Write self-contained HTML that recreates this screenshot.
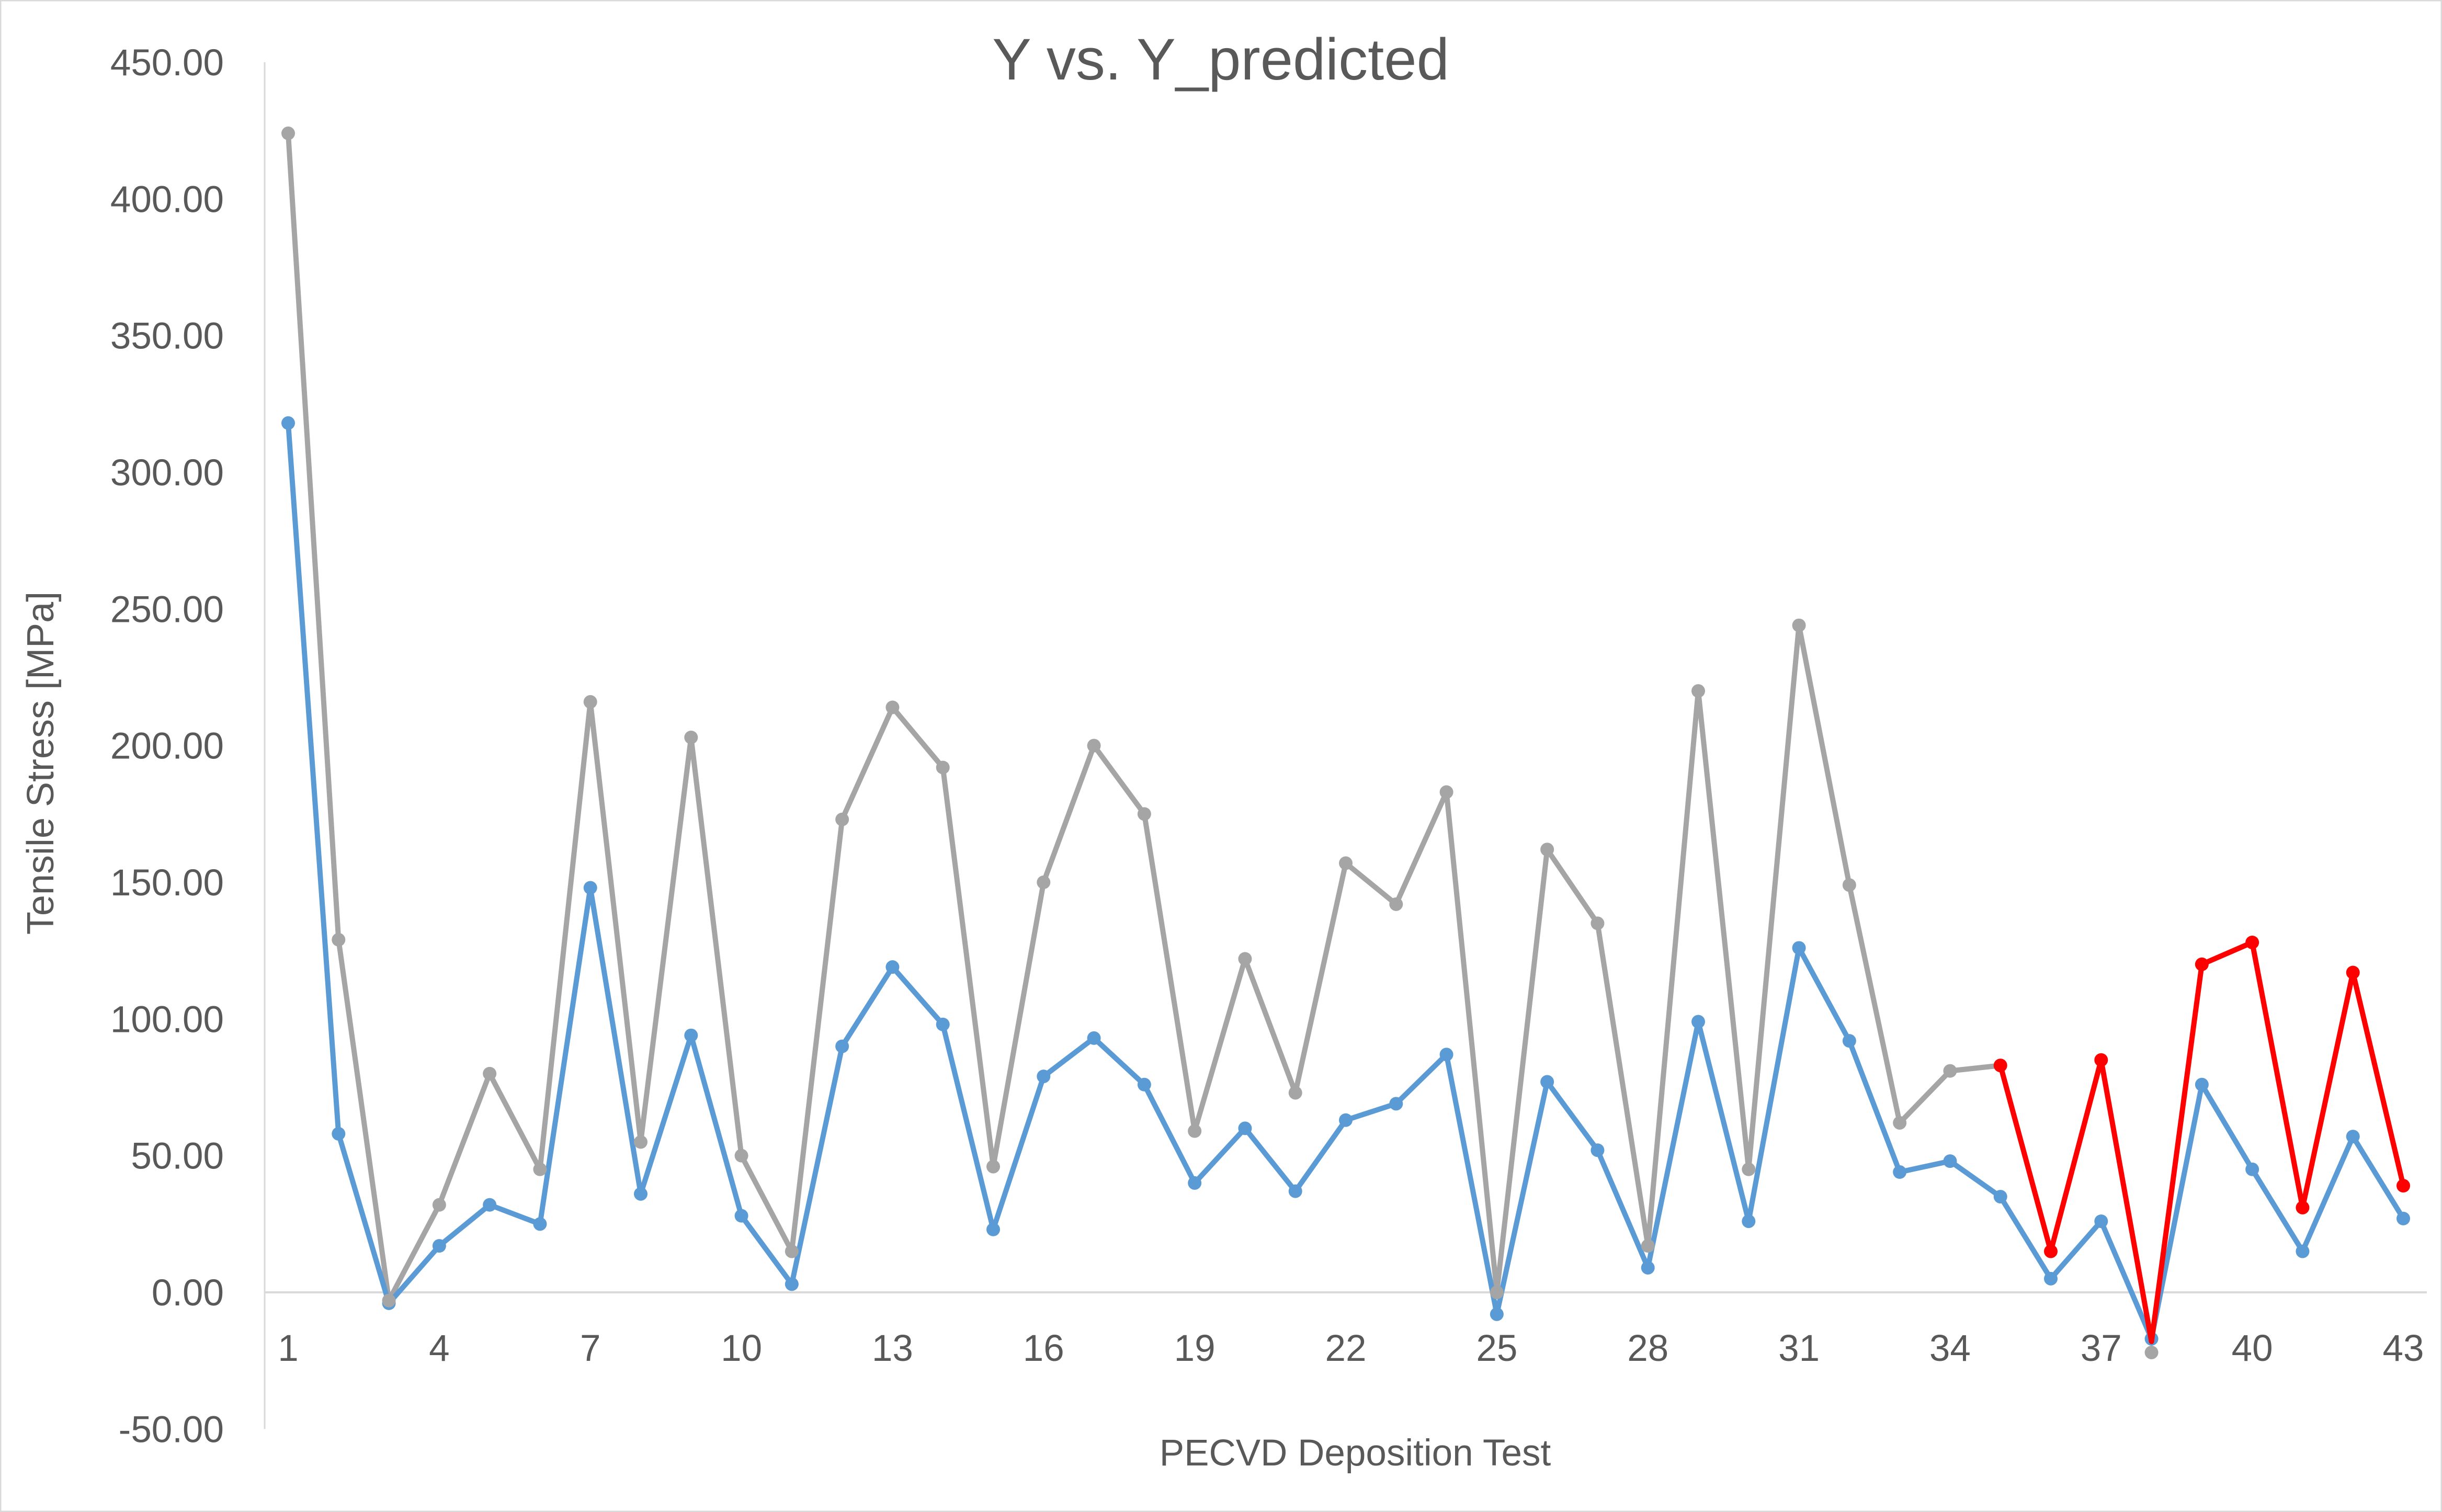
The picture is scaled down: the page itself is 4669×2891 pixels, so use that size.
<!DOCTYPE html>
<html><head><meta charset="utf-8"><style>
html,body{margin:0;padding:0;background:#fff}
svg{display:block}
text{font-family:"Liberation Sans",sans-serif;fill:#595959}
</style></head><body>
<svg id="chart" width="4669" height="2891" viewBox="0 0 4669 2891">
<rect x="1" y="1" width="4667" height="2889" fill="#fff" stroke="#D9D9D9" stroke-width="3"/>
<text x="2334" y="152" font-size="112" text-anchor="middle">Y vs. Y_predicted</text>
<text transform="translate(102,1459) rotate(-90)" font-size="72" text-anchor="middle">Tensile Stress [MPa]</text>
<text x="2591" y="2802" font-size="71" text-anchor="middle">PECVD Deposition Test</text>
<g id="axes"></g><g id="series"></g>
</svg>
<script>
const categories=[];for(let i=1;i<=43;i++)categories.push(i);
const yTicks=[-50,0,50,100,150,200,250,300,350,400,450];
const xTickLabels=[1,4,7,10,13,16,19,22,25,28,31,34,37,40,43];
const actual=[424,129,-3,32,80,45,216,55,203,50,15,173,214,192,46,150,200,175,59,122,73,157,142,183,0,162,135,17,220,45,244,149,62,81,83,15,85,-22,120,128,31,117,39];
const redEnd=-18;
const predicted=[318,58,-4,17,32,25,148,36,94,28,3,90,119,98,23,79,93,76,40,60,37,63,69,87,-8,77,52,9,99,26,126,92,44,48,35,5,26,-17,76,45,15,57,27];
const highlightStart=35;
const NS="http://www.w3.org/2000/svg";
const X=c=>551+(c-1)*(4595-551)/42;
const Y=v=>2471-v*(2471-119)/450;
function mk(t,a,p){const e=document.createElementNS(NS,t);for(const k in a)e.setAttribute(k,a[k]);p.appendChild(e);return e;}
const ax=document.getElementById('axes'),se=document.getElementById('series');
let l=mk('line',{x1:506,x2:506,y1:Y(450),y2:Y(-50),stroke:'#D9D9D9','stroke-width':3},ax);


l=mk('line',{x1:506,x2:4640,y1:Y(0),y2:Y(0),stroke:'#D9D9D9','stroke-width':4},ax);


yTicks.forEach(v=>{const t=mk('text',{x:428,y:Y(v)+25,'font-size':71,'text-anchor':'end'},ax);t.textContent=v.toFixed(2);

});
xTickLabels.forEach(c=>{const t=mk('text',{x:X(c),y:2602,'font-size':71,'text-anchor':'middle'},ax);t.textContent=c;

});
function poly(vals,col,name){const p=mk('polyline',{points:vals.map((v,i)=>X(categories[i])+','+Y(v)).join(' '),fill:'none',stroke:col,'stroke-width':10,'stroke-linejoin':'round'},se);

}
poly(actual.slice(0,highlightStart),'#A5A5A5','actual-line');
poly(predicted,'#5B9BD5','predicted-line');
predicted.forEach((v,i)=>{const c=mk('circle',{cx:X(categories[i]),cy:Y(v),r:13,fill:'#5B9BD5'},se);

});
actual.forEach((v,i)=>{if(i>=highlightStart-1)return;const c=mk('circle',{cx:X(categories[i]),cy:Y(v),r:13,fill:'#A5A5A5'},se);

});
const hv=actual.slice(highlightStart-1).map((v,j)=>categories[highlightStart-1+j]===38?redEnd:v);
const gc=mk('circle',{cx:X(38),cy:Y(actual[37]),r:13,fill:'#A5A5A5'},se);


const rp=mk('polyline',{points:hv.map((v,j)=>X(categories[highlightStart-1+j])+','+Y(v)).join(' '),fill:'none',stroke:'#FF0000','stroke-width':10,'stroke-linejoin':'round'},se);


hv.forEach((v,j)=>{const c=categories[highlightStart-1+j];if(c===38)return;const m=mk('circle',{cx:X(c),cy:Y(v),r:13,fill:'#FF0000'},se);

});
</script>
</body></html>
